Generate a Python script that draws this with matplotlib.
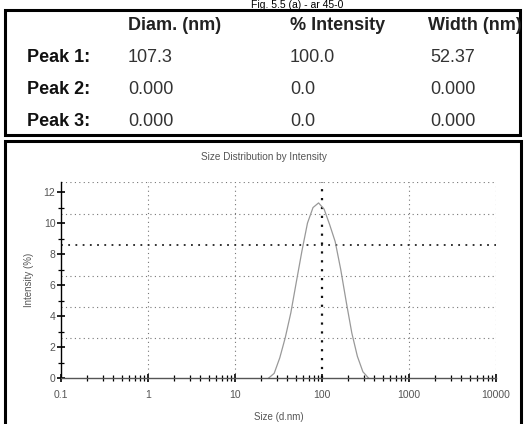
import numpy as np
import matplotlib
matplotlib.use("Agg")
import matplotlib.pyplot as plt
from matplotlib.patches import Rectangle
from matplotlib.ticker import LogLocator, FixedLocator, NullFormatter

# table data
col_headers = ["Diam. (nm)", "% Intensity", "Width (nm)"]
row_labels = ["Peak 1:", "Peak 2:", "Peak 3:"]
diam = ["107.3", "0.000", "0.000"]
intensity_pct = ["100.0", "0.0", "0.0"]
width_nm = ["52.37", "0.000", "0.000"]

# size distribution
size_nm = [24.4, 28.2, 32.7, 37.8, 43.8, 50.7, 58.8, 68.1, 78.8, 91.3,
           105.7, 122.4, 141.8, 164.2, 190.1, 220.2, 255.0, 295.3, 342.0]
intensity = [0.0, 0.3, 1.3, 2.6, 4.2, 6.2, 8.2, 10.0, 11.0, 11.3,
             10.9, 9.9, 8.8, 7.0, 4.9, 2.9, 1.4, 0.4, 0.0]

x_ticks = [0.1, 1, 10, 100, 1000, 10000]
x_ticklabels = ["0.1", "1", "10", "100", "1000", "10000"]
y_ticks = [0, 2, 4, 6, 8, 10, 12]
y_grid = [2.6, 4.6, 6.6, 8.6, 10.6]

W, H = 528, 424
fig = plt.figure(figsize=(W / 100, H / 100), dpi=100)
plt.rcParams['font.family'] = ['Liberation Sans', 'DejaVu Sans']


def fx(x):
    return x / W


def fy(y):
    return 1 - y / H


# title at the very top of the scan
fig.text(fx(297), fy(8), "Fig. 5.5 (a) - ar 45-0", ha="center", va="baseline",
         fontsize=7.5)

# table box
fig.patches.append(Rectangle((fx(5), fy(135)), fx(520) - fx(5), fy(10) - fy(135),
                             transform=fig.transFigure, fill=False,
                             edgecolor="black", linewidth=2.2))
col_x = [128, 290, 428]
txt = dict(fontsize=13, va="center")
for cx, h in zip(col_x, col_headers):
    fig.text(fx(cx), fy(25), h, fontweight="bold", color="#222222", **txt)
row_y = [58, 90, 122]
for i, ry in enumerate(row_y):
    fig.text(fx(27), fy(ry), row_labels[i], fontweight="bold", color="#111111", **txt)
    fig.text(fx(col_x[0]), fy(ry), diam[i], color="#333333", **txt)
    fig.text(fx(col_x[1]), fy(ry), intensity_pct[i], color="#333333", **txt)
    fig.text(fx(430), fy(ry), width_nm[i], color="#333333", **txt)

# chart panel box
fig.patches.append(Rectangle((fx(5), fy(426)), fx(521) - fx(5), fy(141) - fy(426),
                             transform=fig.transFigure, fill=False,
                             edgecolor="black", linewidth=2.2))

# plot
ax = fig.add_axes([fx(61), fy(378), fx(496) - fx(61), fy(182) - fy(378)])
ax.set_facecolor("none")
ax.plot(size_nm, intensity, color="#999999", linewidth=0.9)
ax.set_xscale("log")
ax.set_xlim(0.1, 10000)
ax.set_ylim(0, 12.65)

for xv in x_ticks[1:]:
    lw = 1.6 if xv == 100 else 0.8
    col = "#111111" if xv == 100 else "#777777"
    ax.axvline(xv, color=col, linestyle=(0, (1, 3)), linewidth=lw, zorder=0)
for yv in y_grid + [12.65]:
    lw = 1.3 if yv == 8.6 else 0.8
    col = "#222222" if yv == 8.6 else "#777777"
    ax.axhline(yv, color=col, linestyle=(0, (1, 3)), linewidth=lw, zorder=0)

for s in ["top", "right"]:
    ax.spines[s].set_visible(False)
ax.spines["left"].set_linewidth(1.0)
ax.spines["bottom"].set_linewidth(1.0)
ax.spines["bottom"].set_color("#555555")

ax.set_xticks(x_ticks)
ax.set_xticklabels(x_ticklabels)
ax.xaxis.set_minor_locator(LogLocator(base=10, subs=np.arange(2, 10), numticks=20))
ax.xaxis.set_minor_formatter(NullFormatter())
ax.set_yticks(y_ticks)
ax.yaxis.set_minor_locator(FixedLocator([1, 3, 5, 7, 9, 11]))
ax.tick_params(axis="both", which="major", direction="inout", length=6,
               width=1.2, labelsize=7.5, labelcolor="#555555")
ax.tick_params(axis="both", which="minor", direction="inout", length=4, width=0.9)
ax.tick_params(axis="x", which="major", pad=6)
ax.tick_params(axis="y", which="major", pad=1)

ax.set_xlabel("Size (d.nm)", fontsize=7, color="#555555", labelpad=8)
ax.set_ylabel("Intensity (%)", fontsize=7, color="#555555", labelpad=7)
fig.text(fx(264), fy(157), "Size Distribution by Intensity", ha="center",
         va="center", fontsize=7.2, color="#555555")

fig.savefig("out.png", dpi=100)
